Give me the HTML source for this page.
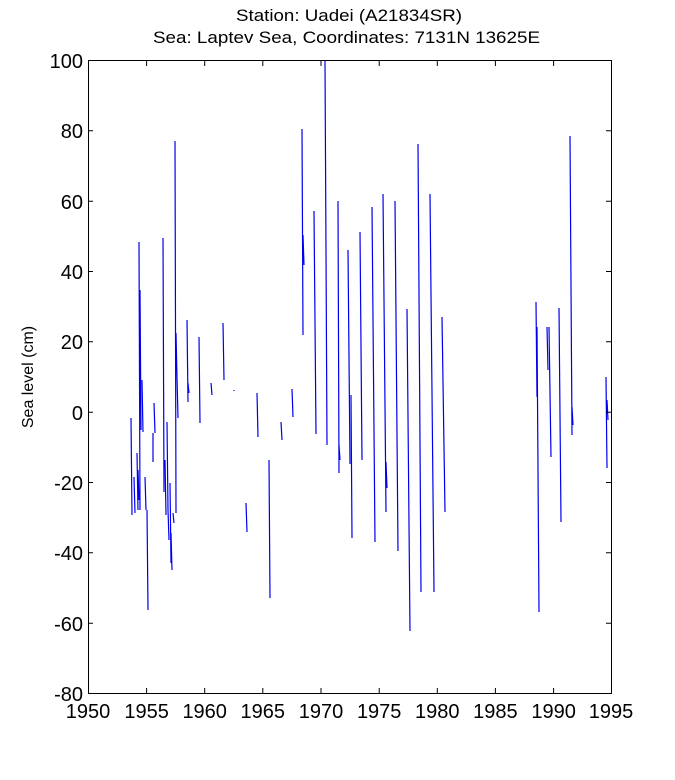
<!DOCTYPE html>
<html><head><meta charset="utf-8"><style>
body{margin:0;background:#fff}
svg{display:block}
text{font-family:"Liberation Sans",Arial,sans-serif;fill:#000}
</style></head><body>
<svg width="675" height="780" viewBox="0 0 675 780" xmlns="http://www.w3.org/2000/svg">
<rect width="675" height="780" fill="#fff"/>
<text x="236" y="21" font-size="17" textLength="226" lengthAdjust="spacingAndGlyphs">Station: Uadei (A21834SR)</text>
<text x="153" y="43" font-size="17" textLength="387" lengthAdjust="spacingAndGlyphs">Sea: Laptev Sea, Coordinates: 7131N 13625E</text>
<g stroke="#0000ee" stroke-width="1.2" fill="none">
<path d="M131 418L132 515M134 477L135 513M137 453L138 510M138 470L139 500M139 242L140 510M140 290L141 430M142 380L143 432M145 477L146 510M147 510L148 610M153 433L153 462M154 403L155 433M163 238L164 492M165 460L166 515M167 422L168 510M168 510L169 540M170 483L171 563M171 533L172 570M173 513L174 523M175 141L176 513M176 333L177 378M177 377L178 418M187 320L188 402M188 383L189 393M199 337L200 423M211 383L212 395M223 323L224 380M234 390L234 391M246 503L247 532M257 393L258 437M269 460L270 598M281 422L282 440"/>
<path d="M292 389L293 417M302 129L303 335M303 235L304 265M314 211L316 434M325 60L327 445M338 201L339 473M339 445L340 460M348 250L350 464M351 395L352 538M360 232L362 460M372 207L375 542M383 194L386 512M386 462L387 488M395 201L398 551M407 309L410 631M418 144L421 592M430 194L434 592M442 317L445 512"/>
<path d="M536 302L537 397M537 327L539 612M547 327L548 370M549 327L551 457M559 308L561 522M570 136L572 435M572 407L573 425M606 377L607 468M607 400L608 420"/>
</g>
<rect x="88.5" y="60.5" width="523" height="633" fill="none" stroke="#000" stroke-width="1"/>
<g stroke="#000" stroke-width="1">
<path d="M88 60.5h5M88 130.8h5M88 201.2h5M88 271.5h5M88 341.8h5M88 412.2h5M88 482.5h5M88 552.8h5M88 623.2h5M611 60.5h-5M611 130.8h-5M611 201.2h-5M611 271.5h-5M611 341.8h-5M611 412.2h-5M611 482.5h-5M611 552.8h-5M611 623.2h-5"/>
<path d="M146.6 693v-5M204.7 693v-5M262.8 693v-5M321 693v-5M379.2 693v-5M437.3 693v-5M495.4 693v-5M553.6 693v-5M146.6 61v5M204.7 61v5M262.8 61v5M321 61v5M379.2 61v5M437.3 61v5M495.4 61v5M553.6 61v5"/>
</g>
<g font-size="20" text-anchor="end">
<text x="83" y="68">100</text><text x="83" y="138">80</text><text x="83" y="209">60</text><text x="83" y="279">40</text><text x="83" y="349">20</text><text x="83" y="420">0</text><text x="83" y="490">-20</text><text x="83" y="560">-40</text><text x="83" y="631">-60</text><text x="83" y="701">-80</text>
</g>
<g font-size="20" text-anchor="middle">
<text x="88" y="718">1950</text><text x="146.6" y="718">1955</text><text x="204.7" y="718">1960</text><text x="262.8" y="718">1965</text><text x="321" y="718">1970</text><text x="379.2" y="718">1975</text><text x="437.3" y="718">1980</text><text x="495.4" y="718">1985</text><text x="553.6" y="718">1990</text><text x="611" y="718">1995</text>
</g>
<text transform="translate(33,377) rotate(-90)" font-size="16" text-anchor="middle">Sea level (cm)</text>
</svg>
</body></html>
